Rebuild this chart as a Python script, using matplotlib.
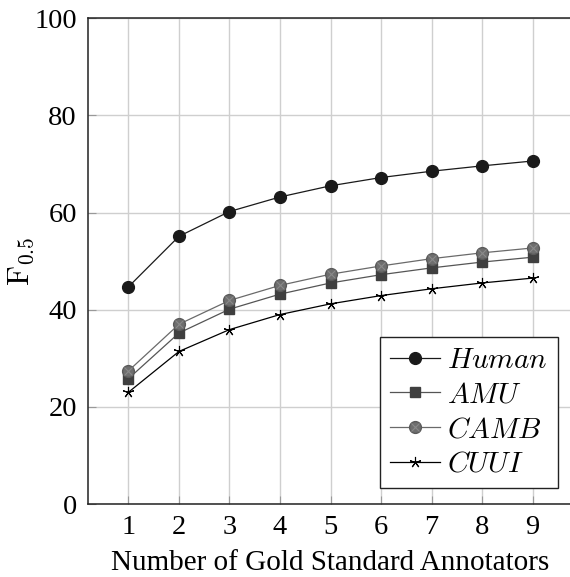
import matplotlib.pyplot as plt
from matplotlib.legend_handler import HandlerTuple
import numpy as np

plt.rcParams['font.family'] = ['Liberation Serif', 'DejaVu Serif']
plt.rcParams['mathtext.fontset'] = 'cm'

annotators = [1, 2, 3, 4, 5, 6, 7, 8, 9]
human = [44.7, 55.1, 60.2, 63.2, 65.5, 67.2, 68.5, 69.6, 70.6]
amu = [25.8, 35.2, 40.1, 43.2, 45.5, 47.2, 48.6, 49.8, 50.8]
camb = [27.4, 37.0, 41.9, 45.0, 47.3, 49.0, 50.5, 51.7, 52.7]
cuui = [23.0, 31.4, 35.9, 39.0, 41.2, 42.9, 44.3, 45.5, 46.5]

fig = plt.figure(figsize=(5.7, 5.77), dpi=100)
ax = fig.add_axes([0.1544, 0.1265, 0.851, 0.842])

h1, = ax.plot(annotators, human, '-o', color='#1a1a1a', lw=0.9, ms=8.5, zorder=3)
h2, = ax.plot(annotators, amu, '-s', color='#555555', mfc='#3f3f3f', mec='#3f3f3f', lw=0.9, ms=7.5, zorder=3)
h3, = ax.plot(annotators, camb, '-o', color='#6a6a6a', mfc='#6e6e6e', mec='#5a5a5a', lw=0.9, ms=8.5, zorder=3)
h3x, = ax.plot(annotators, camb, 'x', color='#8a8a8a', ms=5.5, mew=0.8, zorder=4)
h4, = ax.plot(annotators, cuui, '-', color='black', marker=(5, 2, 0), mec='black', mew=0.8, lw=0.9, ms=8, zorder=3)

ax.set_xlim(0.2, 9.8)
ax.set_ylim(0, 100)
ax.set_xticks(annotators)
ax.set_yticks([0, 20, 40, 60, 80, 100])
ax.grid(True, color='#cfcfcf', lw=1)
ax.set_axisbelow(True)
ax.tick_params(direction='in', length=6, color='#999999', labelsize=20.5, pad=8)
for s in ax.spines.values():
    s.set_linewidth(1.1)
    s.set_color('#222222')

ax.set_xlabel('Number of Gold Standard Annotators', fontsize=21)
ax.xaxis.set_label_coords(0.5, -0.095)
ax.set_ylabel(r'$\mathrm{F}_{0.5}$', fontsize=22)
ax.yaxis.set_label_coords(-0.108, 0.5)

leg = ax.legend([h1, h2, (h3, h3x), h4],
                [r'$Human$', r'$AMU$', r'$CAMB$', r'$CUUI$'],
                handler_map={tuple: HandlerTuple(ndivide=1, pad=0)},
                loc='lower right', bbox_to_anchor=(0.969, 0.033),
                fontsize=21, fancybox=False, framealpha=1, edgecolor='#222222',
                handlelength=1.7, handletextpad=0.25, borderpad=0.35, labelspacing=0.28,
                borderaxespad=0)
leg.get_frame().set_linewidth(1.0)

fig.savefig('out.png', dpi=100)
